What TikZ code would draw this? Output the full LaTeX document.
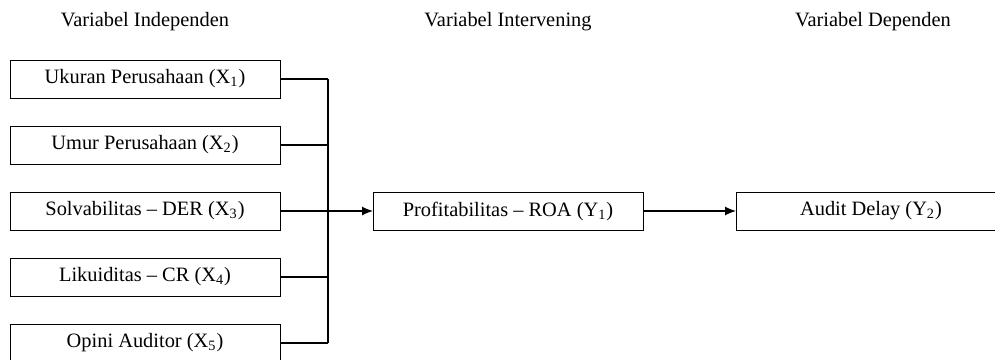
\documentclass[tikz,border=0pt]{standalone}
\usepackage{fontspec}
\setmainfont{Liberation Serif}
\usetikzlibrary{arrows.meta}
\begin{document}
\begin{tikzpicture}[x=0.5pt,y=-0.5pt,
  varbox/.style={draw,line width=0.5pt,minimum width=135pt,minimum height=19pt,inner sep=0pt,outer sep=0pt,font=\fontsize{10.2}{12}\selectfont},
  head/.style={font=\fontsize{10.2}{12}\selectfont,inner sep=0pt},
  conn/.style={line width=0.6pt},
  arr/.style={line width=0.6pt,-{Latex[length=5.5pt,width=4.5pt]}}]
\useasboundingbox (0,0) rectangle (995,359);
\clip (0,0) rectangle (995,359);
\node[head] (h1) at (145,22) {Variabel Independen};
\node[head] (h2) at (508,22) {Variabel Intervening};
\node[head] (h3) at (873,22) {Variabel Dependen};
\node[varbox] (x1) at (145,79) {Ukuran Perusahaan (X\textsubscript{1})};
\node[varbox] (x2) at (145,145) {Umur Perusahaan (X\textsubscript{2})};
\node[varbox] (x3) at (145,211) {Solvabilitas -- DER (X\textsubscript{3})};
\node[varbox] (x4) at (145,277) {Likuiditas -- CR (X\textsubscript{4})};
\node[varbox] (x5) at (145,343) {Opini Auditor (X\textsubscript{5})};
\node[varbox] (y1) at (508,211) {Profitabilitas -- ROA (Y\textsubscript{1})};
\node[varbox] (y2) at (871,211) {Audit Delay (Y\textsubscript{2})};
\coordinate (b1) at (328,79);
\coordinate (b2) at (328,145);
\coordinate (b4) at (328,277);
\coordinate (b5) at (328,343);
\draw[conn] (x1.east) -- (b1);
\draw[conn] (x2.east) -- (b2);
\draw[conn] (x4.east) -- (b4);
\draw[conn] (x5.east) -- (b5);
\draw[conn] (b1) -- (b5);
\draw[arr] (x3.east) -- (y1.west);
\draw[arr] (y1.east) -- (y2.west);
\end{tikzpicture}
\end{document}
